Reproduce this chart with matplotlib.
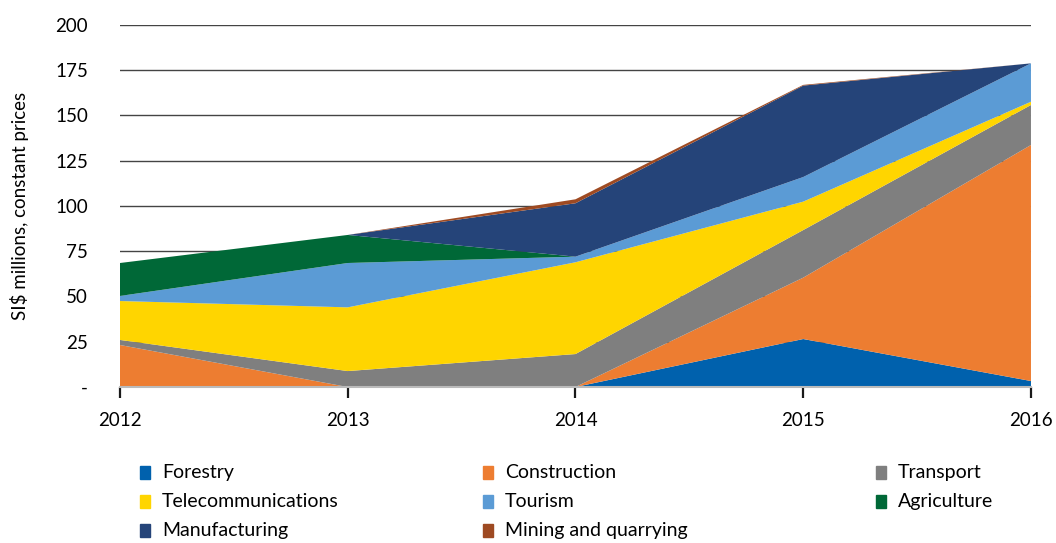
import numpy as np
import matplotlib.pyplot as plt
from matplotlib.patches import Rectangle

plt.rcParams['font.family'] = ['Lato', 'DejaVu Sans']

years = [2012, 2013, 2014, 2015, 2016]

# stacked from bottom to top
forestry = [0, 0, 0, 26.5, 3.3]
construction = [23.2, 0, 0, 33.9, 130.4]
transport = [2.8, 8.8, 18.2, 26.3, 22.1]
telecom = [21.5, 35.2, 50.7, 15.7, 1.8]
tourism = [2.8, 24.5, 3.1, 13.6, 21.2]
agriculture = [18.2, 15.5, 0, 0, 0]
manufacturing = [0, 0, 29.5, 50.5, 0]
mining = [0, 0, 2.2, 0.4, 0]

labels = ["Forestry", "Construction", "Transport", "Telecommunications",
          "Tourism", "Agriculture", "Manufacturing", "Mining and quarrying"]
colors = ["#0061AD", "#ED7D31", "#7F7F7F", "#FFD500",
          "#5B9BD5", "#006837", "#254479", "#9E4A22"]

yticks = [0, 25, 50, 75, 100, 125, 150, 175, 200]
yticklabels = ["-", "25", "50", "75", "100", "125", "150", "175", "200"]


def main():
    fig = plt.figure(figsize=(10.56, 5.43), dpi=100)
    ax = fig.add_axes([0.1136, 0.2873, 0.8627, 0.6667])

    series = [forestry, construction, transport, telecom,
              tourism, agriculture, manufacturing, mining]
    ax.stackplot(years, *series, colors=colors, labels=labels, lw=0)

    ax.set_xlim(2012, 2016)
    ax.set_ylim(0, 200)
    ax.set_xticks(years)
    ax.set_yticks(yticks)
    ax.set_yticklabels(yticklabels)
    ax.tick_params(axis='y', length=0, labelsize=13.5, pad=23)
    ax.tick_params(axis='x', direction='out', length=8, width=1.6,
                   color='#1a1a1a', labelsize=13.5, pad=10)
    for lab in ax.get_yticklabels():
        lab.set_horizontalalignment('right')

    ax.set_axisbelow(True)
    ax.yaxis.grid(True, color='#444444', lw=1)
    for s in ['top', 'right', 'left']:
        ax.spines[s].set_visible(False)
    ax.spines['bottom'].set_color('#bbbbbb')
    ax.spines['bottom'].set_linewidth(1.5)

    ax.set_ylabel(r"SI\$ millions, constant prices", fontsize=13.5)
    ax.yaxis.set_label_coords(-0.1, 0.5)

    # legend laid out row by row, three columns
    col_x = [0.1325, 0.457, 0.8295]
    row_y = [0.129, 0.076, 0.023]
    for i, (lab, col) in enumerate(zip(labels, colors)):
        r, c = divmod(i, 3)
        fig.patches.append(Rectangle((col_x[c], row_y[r] - 0.012), 0.0095, 0.024,
                                     transform=fig.transFigure, color=col))
        fig.text(col_x[c] + 0.021, row_y[r], lab, fontsize=14, va='center')

    fig.savefig("out.png", dpi=100)


if __name__ == "__main__":
    main()
